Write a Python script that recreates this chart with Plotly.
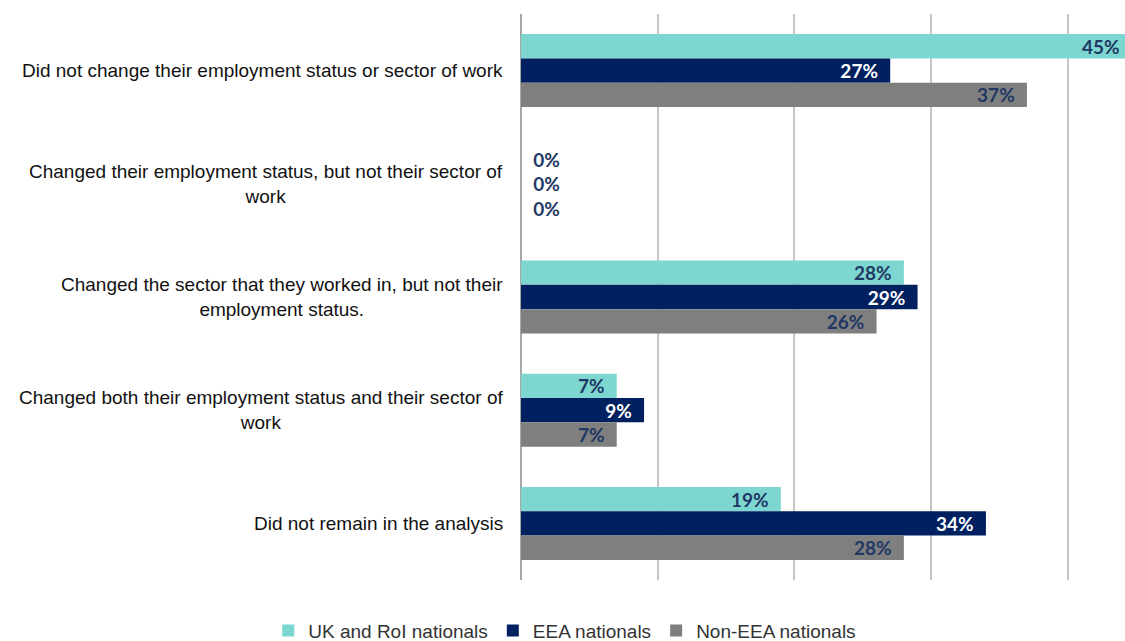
import plotly.graph_objects as go

# Outcome categories (top to bottom) and share of each nationality group, in percent
categories = [
    "Did not change their employment status or sector of work",
    "Changed their employment status, but not their sector of<br>work",
    "Changed the sector that they worked in, but not their<br>employment status.",
    "Changed both their employment status and their sector of<br>work",
    "Did not remain in the analysis",
]
series_names = ["UK and RoI nationals", "EEA nationals", "Non-EEA nationals"]
uk_roi = [45, 0, 28, 7, 19]
eea = [27, 0, 29, 9, 34]
non_eea = [37, 0, 26, 7, 28]

x_max = 44.17  # visible end of the value axis; longer bars run off the right edge

colors = ["#7DD6CF", "#002060", "#7F7F7F"]
inside_text_colors = ["#1F3864", "#FFFFFF", "#1F3864"]
label_navy = "#1F3864"
NBSP = "\u00a0"


def label_template(v):
    if v == 0:
        return NBSP * 2 + "%{x}%"
    # bars cut off by the axis end get a little more room before the edge
    return "%{x}%" + NBSP * (3 if v > x_max else 2)


fig = go.Figure()
for name, vals, col, tcol in zip(series_names, [uk_roi, eea, non_eea], colors, inside_text_colors):
    fig.add_trace(go.Bar(
        name=name,
        y=categories,
        x=vals,
        orientation="h",
        marker=dict(color=col, line=dict(width=0)),
        texttemplate=[label_template(v) for v in vals],
        textposition=["outside" if v == 0 else "inside" for v in vals],
        insidetextanchor="end",
        constraintext="none",
        textangle=0,
        insidetextfont=dict(family="Lato", size=19, color=tcol, weight="bold"),
        outsidetextfont=dict(family="Lato", size=19, color=label_navy, weight="bold"),
        hoverinfo="skip",
    ))

# Category labels: right-aligned block, lines centred
for cat in categories:
    fig.add_annotation(
        x=0, xref="paper", y=cat, yref="y",
        text=cat, showarrow=False,
        xanchor="right", yanchor="middle", align="center", xshift=-16,
        font=dict(family="Liberation Sans, Arial", size=19, color="#111111"),
    )

fig.update_layout(
    width=1125, height=641,
    margin=dict(l=521, r=0, t=14, b=61),
    paper_bgcolor="white", plot_bgcolor="white",
    barmode="group", bargap=0.355, bargroupgap=0,
    showlegend=True,
    legend=dict(
        orientation="h", xref="container", yref="container",
        x=0.502, xanchor="center", y=0.016, yanchor="middle",
        font=dict(family="Liberation Sans, Arial", size=19, color="#333333"),
        traceorder="normal",
    ),
    xaxis=dict(
        range=[0, x_max], showticklabels=False, ticks="",
        dtick=10, showgrid=True, gridcolor="#C6C6C6", gridwidth=2,
        zeroline=True, zerolinecolor="#A6A6A6", zerolinewidth=2,
        showline=False, fixedrange=True,
    ),
    yaxis=dict(
        autorange="reversed", showticklabels=False, ticks="",
        showgrid=False, zeroline=False, showline=False, fixedrange=True,
    ),
)

fig.write_html("out.html")
